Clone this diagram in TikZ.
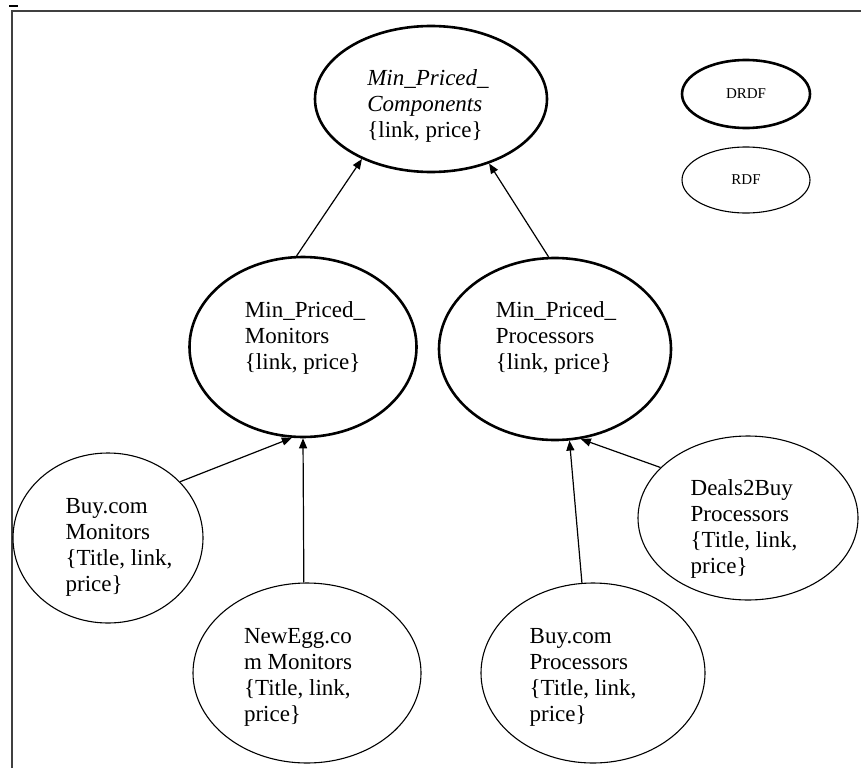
\documentclass[tikz,border=0pt]{standalone}
\usepackage{fontspec}
\setmainfont{Liberation Serif}
\usetikzlibrary{shapes.geometric,arrows.meta}
\begin{document}
\begin{tikzpicture}[x=1pt,y=-1pt,
  drdf/.style={ellipse,draw,line width=2.6pt,inner sep=0pt},
  rdf/.style={ellipse,draw,line width=1.1pt,inner sep=0pt},
  lbl/.style={align=left,font=\fontsize{23}{26}\selectfont,inner sep=0pt},
  con/.style={line width=1.2pt,-{Triangle[length=10pt,width=8pt]}}]
\useasboundingbox (0,0) rectangle (861,768);
% frame
\draw[line width=1.8pt,draw=black!75] (12,768) -- (12,11) -- (861,11);
\draw[line width=1.5pt] (9,6) -- (18,6);
% legend
\node[drdf,minimum width=128pt,minimum height=68pt,font=\fontsize{15}{18}\selectfont] (lg1) at (746,94) {DRDF};
\node[rdf,minimum width=128pt,minimum height=66pt,font=\fontsize{15}{18}\selectfont] (lg2) at (746,180) {RDF};
% top
\node[drdf,minimum width=232pt,minimum height=146pt] (comp) at (431,99) {};
\node[lbl] (compt) at (428,106) {{\itshape Min\_Priced\_}\\{\itshape Components}\\\{link, price\}};
% middle
\node[drdf,minimum width=227pt,minimum height=180pt] (mon) at (303,347) {};
\node[lbl] (mont) at (305,338) {Min\_Priced\_\\Monitors\\\{link, price\}};
\node[drdf,minimum width=232pt,minimum height=182pt] (proc) at (555,349) {};
\node[lbl] (proct) at (556,338) {Min\_Priced\_\\Processors\\\{link, price\}};
% bottom
\node[rdf,minimum width=190pt,minimum height=170pt] (bm) at (108,538) {};
\node[lbl] (bmt) at (119,547) {Buy.com\\Monitors\\\{Title, link,\\price\}};
\node[rdf,minimum width=220pt,minimum height=164pt] (d2b) at (748,518) {};
\node[lbl] (d2bt) at (744,529) {Deals2Buy\\Processors\\\{Title, link,\\price\}};
\node[rdf,minimum width=228pt,minimum height=180pt] (ne) at (307,673) {};
\node[lbl] (net) at (298,677) {NewEgg.co\\m Monitors\\\{Title, link,\\price\}};
\node[rdf,minimum width=224pt,minimum height=180pt] (bp) at (593,673) {};
\node[lbl] (bpt) at (583,677) {Buy.com\\Processors\\\{Title, link,\\price\}};
% connectors
\draw[con] (mon.94) -- (comp.221.5);
\draw[con] (proc.94.5) -- (comp.312.6);
\draw[con] (bm.38.8) -- (mon.263.7);
\draw[con] (ne.92.6) -- (mon.270);
\draw[con] (bp.97) -- (proc.279.7);
\draw[con] (d2b.150.5) -- (proc.286);
\end{tikzpicture}
\end{document}
